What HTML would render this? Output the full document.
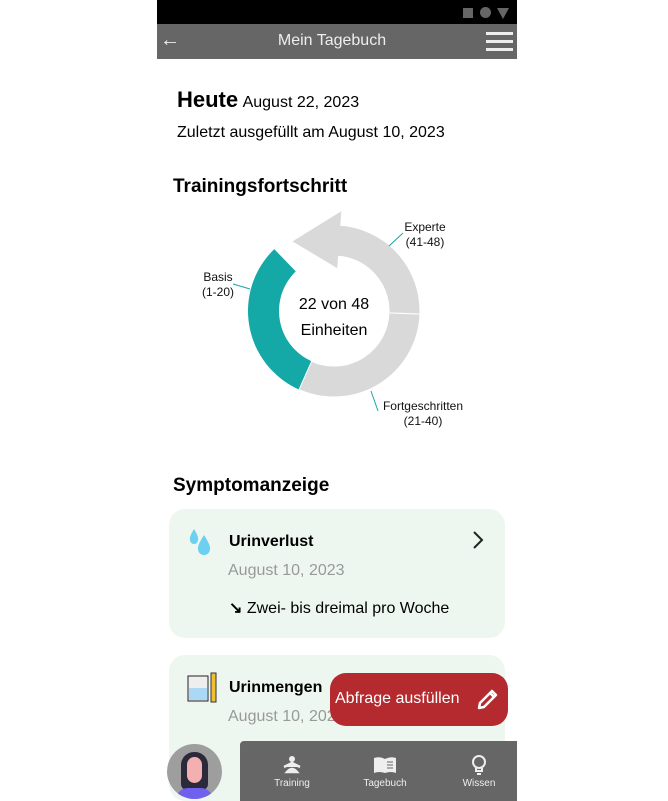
<!DOCTYPE html>
<html><head><meta charset="utf-8"><style>
body{margin:0;width:668px;height:801px;background:#fff;position:relative;overflow:hidden;font-family:"Liberation Sans",sans-serif}
.a{position:absolute}
</style></head><body>
<div class="a" style="left:157px;top:0;width:360px;height:24px;background:#000">
 <div class="a" style="left:306px;top:8px;width:10px;height:10px;background:#666"></div>
 <div class="a" style="left:323px;top:7px;width:11px;height:11px;border-radius:50%;background:#666"></div>
 <div class="a" style="left:340px;top:8px;width:0;height:0;border-left:6px solid transparent;border-right:6px solid transparent;border-top:11px solid #666"></div>
</div>
<div class="a" style="left:157px;top:24px;width:360px;height:35px;background:#666;color:#eee">
 <div class="a" style="left:3px;top:5px;font-size:20px">&#8592;</div>
 <div class="a" style="left:0;width:350px;text-align:center;top:8px;font-size:16px">Mein Tagebuch</div>
 <div class="a" style="left:329px;top:8px;width:27px;height:20px">
  <div class="a" style="top:0;width:27px;height:3px;background:#eee"></div>
  <div class="a" style="top:8px;width:27px;height:3px;background:#eee"></div>
  <div class="a" style="top:16px;width:27px;height:3px;background:#eee"></div>
 </div>
</div>
<div class="a" style="left:177px;top:87px;color:#000"><b style="font-size:22px">Heute</b> <span style="font-size:16px">August 22, 2023</span></div>
<div class="a" style="left:177px;top:124px;font-size:16px">Zuletzt ausgefüllt am August 10, 2023</div>
<div class="a" style="left:173px;top:176px;font-size:19px;font-weight:bold">Trainingsfortschritt</div>

<svg class="a" style="left:0;top:0" width="668" height="801" id="donut"></svg>

<div class="a" style="left:173px;top:475px;font-size:19px;font-weight:bold">Symptomanzeige</div>

<div class="a" style="left:169px;top:509px;width:336px;height:129px;background:#eef7ef;border-radius:16px">
 <svg class="a" style="left:18px;top:18px" width="30" height="32"><path d="M7 2 Q2 10 3 13 A4 4 0 0 0 11 13 Q12 10 7 2Z" fill="#6cd0f0"/><path d="M17 8 Q10 19 11 22 A6 6 0 0 0 23 22 Q24 19 17 8Z" fill="#6cd0f0"/></svg>
 <div class="a" style="left:60px;top:24px;font-size:16px;font-weight:bold">Urinverlust</div>
 <svg class="a" style="left:302px;top:21px" width="14" height="20"><path d="M3 2 L11 10 L3 18" fill="none" stroke="#222" stroke-width="2"/></svg>
 <div class="a" style="left:59px;top:53px;font-size:16px;color:#999">August 10, 2023</div>
 <div class="a" style="left:60px;top:89px;font-size:16px"><span style="font-weight:bold">&#8600;</span> Zwei- bis dreimal pro Woche</div>
</div>

<div class="a" style="left:169px;top:655px;width:336px;height:146px;background:#eef7ef;border-radius:16px">
 <svg class="a" style="left:16px;top:17px" width="34" height="32"><rect x="3" y="4" width="20" height="25" fill="#eee" stroke="#222"/><rect x="4" y="16" width="18" height="12" fill="#aad8f5"/><rect x="26" y="1" width="5" height="29" fill="#f0c030" stroke="#333"/></svg>
 <div class="a" style="left:60px;top:24px;font-size:16px;font-weight:bold">Urinmengen</div>
 <div class="a" style="left:59px;top:53px;font-size:16px;color:#999">August 10, 2023</div>
</div>

<div class="a" style="left:330px;top:673px;width:178px;height:53px;background:#b52a2e;border-radius:16px;color:#fff">
 <div class="a" style="left:5px;top:17px;font-size:16px">Abfrage ausfüllen</div>
 <svg class="a" style="left:146px;top:14px" width="24" height="24"><path d="M3 21 L4 16 L16 4 L20 8 L8 20 Z M14 6 L18 10" fill="none" stroke="#fff" stroke-width="2.5" stroke-linejoin="round"/></svg>
</div>

<div class="a" style="left:167px;top:744px;width:55px;height:55px;border-radius:50%;background:#9e9e9e;overflow:hidden">
 <div class="a" style="left:14px;top:8px;width:27px;height:38px;border-radius:13px 13px 6px 6px;background:#2a2a3a"></div>
 <div class="a" style="left:20px;top:13px;width:15px;height:26px;border-radius:8px;background:#f4b0b0"></div>
 <div class="a" style="left:9px;top:44px;width:37px;height:20px;border-radius:12px 12px 0 0;background:#7060f0"></div>
</div>

<div class="a" style="left:240px;top:741px;width:277px;height:60px;background:#666;border-radius:4px 0 0 0;color:#eee;font-size:10px">
 <div class="a" style="left:27px;top:14px;width:50px;text-align:center"><svg width="24" height="20"><circle cx="12" cy="4" r="3" fill="#eee"/><path d="M4 12 L12 8 L20 12 M7 17 Q12 11 17 17 Z" stroke="#eee" stroke-width="2.5" fill="#eee"/></svg><br>Training</div>
 <div class="a" style="left:118px;top:14px;width:54px;text-align:center"><svg width="24" height="20"><path d="M1 3 Q6 1 12 4 Q18 1 23 3 V18 Q18 16 12 18 Q6 16 1 18Z" fill="#eee"/><path d="M14 7h6M14 10h6M14 13h6" stroke="#666"/></svg><br>Tagebuch</div>
 <div class="a" style="left:215px;top:14px;width:48px;text-align:center"><svg width="16" height="20"><circle cx="8" cy="7" r="6" fill="none" stroke="#eee" stroke-width="2"/><path d="M5 13v3h6v-3M6 19h4" stroke="#eee" stroke-width="2" fill="none"/></svg><br>Wissen</div>
</div>

<script>
const segNames = ["Basis","Fortgeschritten","Experte"];
const segLabels = ["(1-20)","(21-40)","(41-48)"];
const segStart = [1,21,41];
const segEnd = [20,40,48];
const segColors = ["#14a8a6","#d9d9d9","#d9d9d9"];
const totalUnits = 48;
const doneUnits = 22;

const svg = document.getElementById('donut');
const NS = 'http://www.w3.org/2000/svg';
const cx = 334, cy = 311, rO = 86, rI = 55;
const a0 = 226, degPerUnit = 5.6;
function ang(u){ return a0 - u*degPerUnit; }
function pt(a,r){ const t=a*Math.PI/180; return [cx+r*Math.cos(t), cy+r*Math.sin(t)]; }
function arc(aS,aE){
  const [x1,y1]=pt(aS,rO),[x2,y2]=pt(aE,rO),[x3,y3]=pt(aE,rI),[x4,y4]=pt(aS,rI);
  const large = Math.abs(aS-aE)>180?1:0;
  return `M${x1},${y1} A${rO},${rO} 0 ${large} 0 ${x2},${y2} L${x3},${y3} A${rI},${rI} 0 ${large} 1 ${x4},${y4}Z`;
}
segNames.forEach((n,i)=>{
  let aS = ang(segStart[i]-1), aE = ang(segEnd[i]);
  if(i===segNames.length-1) aE -= 44;
  const p=document.createElementNS(NS,'path');
  
  
  p.setAttribute('d', arc(aS,aE));
  p.setAttribute('fill', segColors[i]);
  p.setAttribute('stroke', i===0?'none':'#fff');p.setAttribute('stroke-width','1');
  svg.appendChild(p);
  if(i===segNames.length-1){
    const b1=pt(aE+1,100), b2=pt(aE+1,43), tip=pt(aE-34,81);
    const h=document.createElementNS(NS,'path');
    
    
    h.setAttribute('d',`M${b1} L${tip} L${b2}Z`);
    h.setAttribute('fill', segColors[i]);
    svg.appendChild(h);
  }
});
// labels
const labelPos = [[218,281,'middle'],[423,410,'middle'],[425,231,'middle']];
const leaderFrom = [[233,284],[371,391],[389,246]];
const leaderTo = [[250,289],[378,411],[403,233]];
segNames.forEach((n,i)=>{
  const l=document.createElementNS(NS,'line');
  
  
  l.setAttribute('x1',leaderFrom[i][0]);l.setAttribute('y1',leaderFrom[i][1]);
  l.setAttribute('x2',leaderTo[i][0]);l.setAttribute('y2',leaderTo[i][1]);
  l.setAttribute('stroke','#14a8a6');
  svg.appendChild(l);
  [n,segLabels[i]].forEach((s,k)=>{
    const t=document.createElementNS(NS,'text');
    
    
    t.setAttribute('x',labelPos[i][0]);t.setAttribute('y',labelPos[i][1]+k*15);
    t.setAttribute('text-anchor',labelPos[i][2]);
    t.setAttribute('font-size','12');t.setAttribute('fill','#111');
    t.setAttribute('font-family','Liberation Sans, sans-serif');
    t.textContent=s; svg.appendChild(t);
  });
});
[doneUnits+' von '+totalUnits,'Einheiten'].forEach((s,k)=>{
  const t=document.createElementNS(NS,'text');
  
  
  t.setAttribute('x',cx);t.setAttribute('y',309+k*26);
  t.setAttribute('text-anchor','middle');t.setAttribute('font-size','16');
  t.setAttribute('font-family','Liberation Sans, sans-serif');
  t.textContent=s; svg.appendChild(t);
});
</script>
</body></html>
